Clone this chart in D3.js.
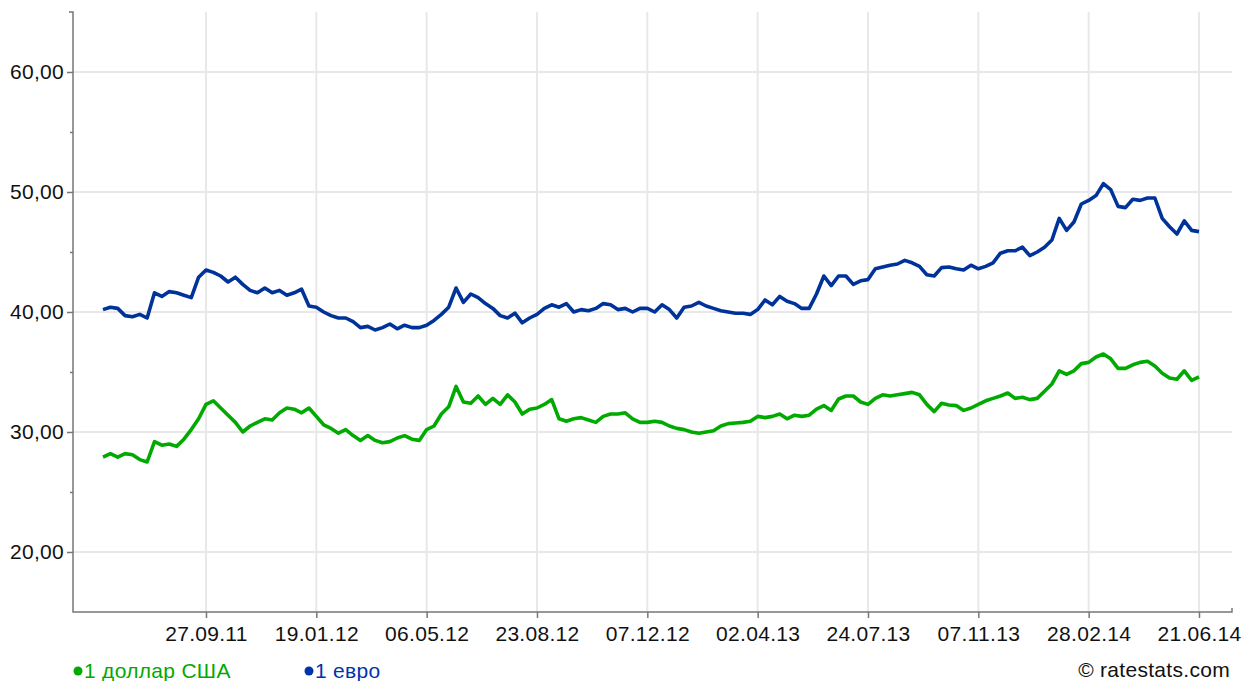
<!DOCTYPE html>
<html>
<head>
<meta charset="utf-8">
<script src="https://cdn.jsdelivr.net/npm/d3@7"></script>
<style>
  body { margin: 0; background: #fff; }
  svg { display: block; font-family: "Liberation Sans", Arial, sans-serif; }
</style>
</head>
<body>
<div id="viz"></div>
<script>
// weekly samples, 150 points per series
const usd = [
  27.9, 28.2, 27.9, 28.2, 28.1, 27.7, 27.5, 29.2, 28.9, 29.0,
  28.8, 29.4, 30.2, 31.1, 32.3, 32.6, 32.0, 31.4, 30.8, 30.0,
  30.5, 30.8, 31.1, 31.0, 31.6, 32.0, 31.9, 31.6, 32.0, 31.3,
  30.6, 30.3, 29.9, 30.2, 29.7, 29.3, 29.7, 29.3, 29.1, 29.2,
  29.5, 29.7, 29.4, 29.3, 30.2, 30.5, 31.5, 32.1, 33.8, 32.5,
  32.4, 33.0, 32.3, 32.8, 32.3, 33.1, 32.5, 31.5, 31.9, 32.0,
  32.3, 32.7, 31.1, 30.9, 31.1, 31.2, 31.0, 30.8, 31.3, 31.5,
  31.5, 31.6, 31.1, 30.8, 30.8, 30.9, 30.8, 30.5, 30.3, 30.2,
  30.0, 29.9, 30.0, 30.1, 30.5, 30.7, 30.75, 30.8, 30.9, 31.3,
  31.2, 31.3, 31.5, 31.1, 31.4, 31.3, 31.4, 31.9, 32.2, 31.8,
  32.75, 33.0, 33.0, 32.5, 32.3, 32.8, 33.1, 33.0, 33.1, 33.2,
  33.3, 33.1, 32.3, 31.7, 32.4, 32.25, 32.2, 31.8, 32.0, 32.3,
  32.6, 32.8, 33.0, 33.25, 32.8, 32.9, 32.7, 32.8, 33.4, 34.0,
  35.1, 34.8, 35.1, 35.7, 35.8, 36.25, 36.5, 36.1, 35.3, 35.3,
  35.6, 35.8, 35.9, 35.5, 34.9, 34.5, 34.4, 35.1, 34.3, 34.6
];
const eur = [
  40.2, 40.4, 40.3, 39.7, 39.6, 39.8, 39.5, 41.6, 41.3, 41.7,
  41.6, 41.4, 41.2, 42.9, 43.5, 43.3, 43.0, 42.5, 42.9, 42.3,
  41.8, 41.6, 42.0, 41.6, 41.8, 41.4, 41.6, 41.9, 40.5, 40.4,
  40.0, 39.7, 39.5, 39.5, 39.2, 38.7, 38.8, 38.5, 38.7, 39.0,
  38.6, 38.9, 38.7, 38.7, 38.9, 39.3, 39.8, 40.4, 42.0, 40.8,
  41.5, 41.2, 40.7, 40.3, 39.7, 39.5, 39.9, 39.1, 39.5, 39.8,
  40.3, 40.6, 40.4, 40.7, 40.0, 40.2, 40.1, 40.3, 40.7, 40.6,
  40.2, 40.3, 40.0, 40.3, 40.3, 40.0, 40.6, 40.2, 39.5, 40.4,
  40.5, 40.8, 40.5, 40.3, 40.1, 40.0, 39.9, 39.9, 39.8, 40.2,
  41.0, 40.6, 41.3, 40.9, 40.7, 40.3, 40.3, 41.5, 43.0, 42.2,
  43.0, 43.0, 42.3, 42.6, 42.7, 43.6, 43.75, 43.9, 44.0, 44.3,
  44.1, 43.8, 43.1, 43.0, 43.7, 43.75, 43.6, 43.5, 43.9, 43.6,
  43.8, 44.1, 44.9, 45.1, 45.1, 45.4, 44.7, 45.0, 45.4, 46.0,
  47.8, 46.8, 47.5, 49.0, 49.3, 49.7, 50.7, 50.2, 48.8, 48.7,
  49.4, 49.3, 49.5, 49.5, 47.8, 47.1, 46.5, 47.6, 46.8, 46.7
];
const tickIdx = [14, 29, 44, 59, 74, 89, 104, 119, 134, 149];
const tickLabels = ['27.09.11', '19.01.12', '06.05.12', '23.08.12', '07.12.12',
                    '02.04.13', '24.07.13', '07.11.13', '28.02.14', '21.06.14'];
const yTicks = [20, 30, 40, 50, 60];
const yMinor = [25, 35, 45, 55];
const seriesNames = ['1 доллар США', '1 евро'];

const width = 1244, height = 681;
const axisLeft = 73, axisRight = 1232, plotTop = 12, plotBottom = 612;
const fontSize = 21;

const x = d3.scaleLinear().domain([0, usd.length - 1]).range([103, 1199]);
const y = d3.scaleLinear().domain([15, 65]).range([plotBottom, plotTop]);

const svg = d3.select('#viz').append('svg')
  .attr('width', width).attr('height', height);

// grid
svg.append('g').selectAll('line').data(yTicks).enter().append('line')
  .attr('x1', axisLeft).attr('x2', axisRight)
  .attr('y1', d => y(d)).attr('y2', d => y(d))
  .attr('stroke', '#e8e8e8').attr('stroke-width', 2);
svg.append('g').selectAll('line').data(tickIdx).enter().append('line')
  .attr('x1', d => x(d)).attr('x2', d => x(d))
  .attr('y1', plotTop).attr('y2', plotBottom)
  .attr('stroke', '#e8e8e8').attr('stroke-width', 2);

// y axis
const yAxis = svg.append('g')
  .attr('transform', `translate(${axisLeft},0)`)
  .call(d3.axisLeft(y).tickValues(yTicks).tickSize(6).tickSizeOuter(0)
    .tickFormat(d => d3.format('.2f')(d).replace('.', ',')));
yAxis.select('.domain').remove();
yAxis.selectAll('line').attr('stroke', '#777').attr('stroke-width', 1.5);
yAxis.selectAll('text').attr('font-size', fontSize).attr('fill', '#111')
  .attr('letter-spacing', 0.3);

const yMin = svg.append('g')
  .attr('transform', `translate(${axisLeft},0)`)
  .call(d3.axisLeft(y).tickValues(yMinor).tickSize(3).tickSizeOuter(0).tickFormat(''));
yMin.select('.domain').remove();
yMin.selectAll('line').attr('stroke', '#777').attr('stroke-width', 1.5);

// x axis
const xAxis = svg.append('g')
  .attr('transform', `translate(0,${plotBottom})`)
  .call(d3.axisBottom(x).tickValues(tickIdx).tickSize(6).tickSizeOuter(0)
    .tickFormat((d, i) => tickLabels[i]));
xAxis.select('.domain').remove();
xAxis.selectAll('line').attr('stroke', '#777').attr('stroke-width', 1.5);
xAxis.selectAll('text').attr('font-size', fontSize).attr('fill', '#111')
  .attr('letter-spacing', 0.3).attr('dy', '0.95em');

// axis frame lines
svg.append('path')
  .attr('d', `M${axisLeft - 4},${plotTop}H${axisLeft}V${plotBottom}H${axisRight}V${plotBottom - 4}`)
  .attr('fill', 'none').attr('stroke', '#777').attr('stroke-width', 1.5);

// series lines
const line = d3.line().x((d, i) => x(i)).y(d => y(d));
svg.append('path').datum(usd).attr('d', line)
  .attr('fill', 'none').attr('stroke', '#00aa00').attr('stroke-width', 3.6)
  .attr('stroke-linejoin', 'round');
svg.append('path').datum(eur).attr('d', line)
  .attr('fill', 'none').attr('stroke', '#003399').attr('stroke-width', 3.6)
  .attr('stroke-linejoin', 'round');

// legend
const legend = [
  { name: seriesNames[0], color: '#00aa00', x: 78 },
  { name: seriesNames[1], color: '#0033aa', x: 309 }
];
const lg = svg.append('g').selectAll('g').data(legend).enter().append('g')
  .attr('transform', d => `translate(${d.x},671)`);
lg.append('circle').attr('r', 4.5).attr('fill', d => d.color);
lg.append('text').attr('x', 6).attr('y', 7).attr('font-size', fontSize)
  .attr('letter-spacing', 0.3).attr('fill', d => d.color).text(d => d.name);

svg.append('text').attr('x', 1230).attr('y', 677).attr('text-anchor', 'end')
  .attr('font-size', fontSize).attr('letter-spacing', 0.3)
  .attr('fill', '#111').text('© ratestats.com');
</script>
</body>
</html>
